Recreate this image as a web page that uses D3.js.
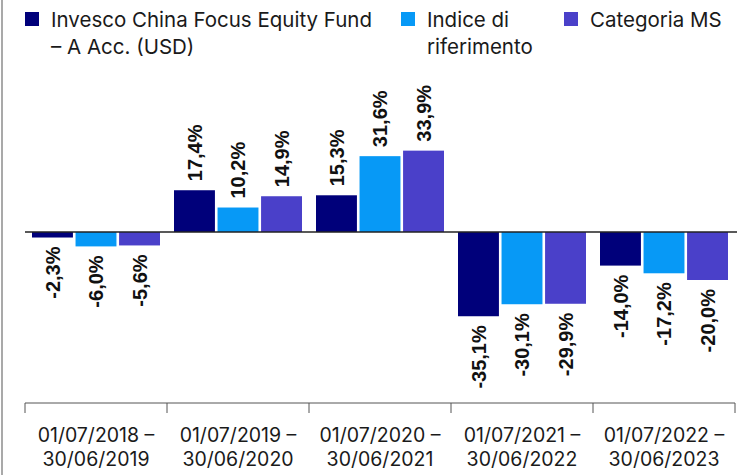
<!DOCTYPE html>
<html>
<head>
<meta charset="utf-8">
<script src="https://cdn.jsdelivr.net/npm/d3@7"></script>
<style>
  body { margin: 0; background: #fff; }
  svg { display: block; }
</style>
</head>
<body>
<div id="chart"></div>
<script>
// periods (two lines each) and the three series, in %
var periods = [
  ['01/07/2018 –', '30/06/2019'],
  ['01/07/2019 –', '30/06/2020'],
  ['01/07/2020 –', '30/06/2021'],
  ['01/07/2021 –', '30/06/2022'],
  ['01/07/2022 –', '30/06/2023']
];
var fundValues  = [-2.3, 17.4, 15.3, -35.1, -14.0];
var indexValues = [-6.0, 10.2, 31.6, -30.1, -17.2];
var msValues    = [-5.6, 14.9, 33.9, -29.9, -20.0];

var seriesNames = ['fund', 'index', 'ms'];
var seriesLabels = [
  ['Invesco China Focus Equity Fund', '– A Acc. (USD)'],
  ['Indice di', 'riferimento'],
  ['Categoria MS']
];
var colors = ['#00007a', '#0799f6', '#4a40c9'];

var width = 751, height = 475;
var svg = d3.select('#chart').append('svg')
  .attr('width', width)
  .attr('height', height);

// left frame edge
svg.append('line')
  .attr('x1', 2).attr('x2', 2)
  .attr('y1', 0).attr('y2', height)
  .attr('stroke', '#8c8c8c')
  .attr('stroke-width', 1.5);

var keys = periods.map(function(p) { return p.join(' '); });
var rows = keys.map(function(k, i) {
  return { key: k, lines: periods[i], values: [fundValues[i], indexValues[i], msValues[i]] };
});

var x0 = d3.scaleBand().domain(keys).range([25, 735]);
var x1 = d3.scaleBand().domain(seriesNames).range([7, x0.bandwidth() - 7]).paddingInner(0.06);
var y = d3.scaleLinear().domain([-40, 40]).range([328, 136]);

// comma decimals, plain hyphen for the sign
var fmt = function(v) { return d3.format('.1f')(v).replace('.', ',').replace('\u2212', '-') + '%'; };

var groups = svg.selectAll('g.period')
  .data(rows)
  .enter().append('g')
  .attr('class', 'period')
  .attr('transform', function(d) { return 'translate(' + x0(d.key) + ',0)'; });

groups.selectAll('rect')
  .data(function(d) { return d.values.map(function(v, j) { return { s: seriesNames[j], v: v, c: colors[j] }; }); })
  .enter().append('rect')
  .attr('x', function(d) { return x1(d.s); })
  .attr('width', x1.bandwidth())
  .attr('y', function(d) { return y(Math.max(0, d.v)); })
  .attr('height', function(d) { return Math.abs(y(d.v) - y(0)); })
  .attr('fill', function(d) { return d.c; });

groups.selectAll('text.val')
  .data(function(d) { return d.values.map(function(v, j) { return { s: seriesNames[j], v: v }; }); })
  .enter().append('text')
  .attr('class', 'val')
  .attr('transform', function(d) {
    var cx = x1(d.s) + x1.bandwidth() / 2;
    var ty = d.v >= 0 ? y(d.v) - 9 : y(d.v) + 9;
    return 'translate(' + cx + ',' + ty + ') rotate(-90)';
  })
  .attr('dy', '0.36em')
  .attr('text-anchor', function(d) { return d.v >= 0 ? 'start' : 'end'; })
  .attr('font-family', '"Liberation Sans", Arial, sans-serif')
  .attr('font-weight', 'bold')
  .attr('font-size', 20)
  .attr('fill', '#111')
  .text(function(d) { return fmt(d.v); });

// zero line
svg.append('line')
  .attr('x1', 25).attr('x2', 737)
  .attr('y1', y(0)).attr('y2', y(0))
  .attr('stroke', '#222')
  .attr('stroke-width', 1.5);

// category axis with ticks at band edges
var axisY = 403;
svg.append('line')
  .attr('x1', x0.range()[0]).attr('x2', x0.range()[1])
  .attr('y1', axisY).attr('y2', axisY)
  .attr('stroke', '#555').attr('stroke-width', 1);

var edges = keys.map(function(k) { return x0(k); }).concat([x0.range()[1]]);
svg.selectAll('line.tick')
  .data(edges)
  .enter().append('line')
  .attr('class', 'tick')
  .attr('x1', function(d) { return d; }).attr('x2', function(d) { return d; })
  .attr('y1', axisY).attr('y2', axisY + 10)
  .attr('stroke', '#555').attr('stroke-width', 1);

var catText = svg.selectAll('text.cat')
  .data(rows)
  .enter().append('text')
  .attr('class', 'cat')
  .attr('text-anchor', 'middle')
  .attr('font-family', 'Inter, "Noto Sans", sans-serif')
  .attr('font-size', 19.5)
  .attr('fill', '#1a1a1a');
catText.selectAll('tspan')
  .data(function(d) { return d.lines.map(function(l) { return { l: l, cx: x0(d.key) + x0.bandwidth() / 2 }; }); })
  .enter().append('tspan')
  .attr('x', function(d) { return d.cx; })
  .attr('y', function(d, i) { return 442 + i * 24; })
  .text(function(d) { return d.l; });

// legend
var legendX = [25, 401, 564];
var legend = svg.selectAll('g.legend')
  .data(seriesLabels)
  .enter().append('g')
  .attr('class', 'legend')
  .attr('transform', function(d, i) { return 'translate(' + legendX[i] + ',0)'; });

legend.append('rect')
  .attr('x', 0).attr('y', 12)
  .attr('width', 14).attr('height', 14)
  .attr('fill', function(d, i) { return colors[i]; });

legend.append('text')
  .attr('font-family', 'Inter, "Noto Sans", sans-serif')
  .attr('font-size', 20.5)
  .attr('fill', '#1a1a1a')
  .selectAll('tspan')
  .data(function(d) { return d; })
  .enter().append('tspan')
  .attr('x', 26)
  .attr('y', function(d, i) { return 27 + i * 27; })
  .text(function(d) { return d; });
</script>
</body>
</html>
